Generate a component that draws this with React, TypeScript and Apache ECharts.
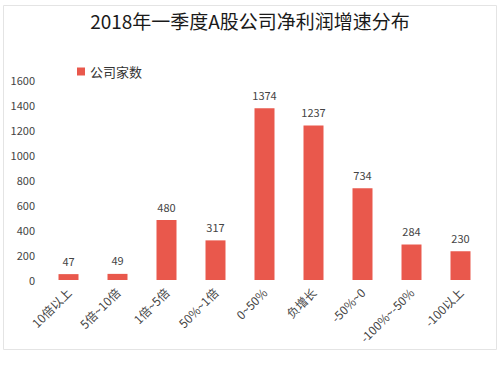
import React, { useEffect, useRef } from "react";
import * as echarts from "echarts";

const categories = ["10倍以上", "5倍~10倍", "1倍~5倍", "50%~1倍", "0~50%", "负增长", "-50%~0", "-100%~-50%", "-100以上"];
const companyCounts = [47, 49, 480, 317, 1374, 1237, 734, 284, 230];
const seriesName = "公司家数";
const titleText = "2018年一季度A股公司净利润增速分布";

export default function App() {
  const ref = useRef<HTMLDivElement>(null);
  useEffect(() => {
    const chart = echarts.init(ref.current!, undefined, { renderer: "svg" });
    const font = "'Noto Sans CJK SC', 'Noto Sans', sans-serif";
    chart.setOption({
      animation: false,
      backgroundColor: "#ffffff",
      textStyle: { fontFamily: font },
      title: {
        text: titleText,
        left: "center",
        top: 6,
        textStyle: { fontSize: 19, fontWeight: "normal", color: "#1a1a1a", fontFamily: font },
      },
      legend: {
        data: [seriesName],
        left: 72,
        top: 60,
        itemWidth: 8,
        itemHeight: 8,
        icon: "rect",
        itemGap: 4,
        textStyle: { fontSize: 13, color: "#333", fontFamily: font },
      },
      graphic: [
        {
          type: "rect",
          shape: { x: 3.5, y: 5.5, width: 493, height: 344 },
          style: { fill: "none", stroke: "#e4e4e4", lineWidth: 1 },
          silent: true,
        },
      ],
      grid: { left: 44, right: 15, top: 80, bottom: 90, containLabel: false },
      xAxis: {
        type: "category",
        data: categories,
        axisLine: { show: false },
        axisTick: { show: false },
        axisLabel: { rotate: 45, fontSize: 12, color: "#444", margin: 10, interval: 0, fontFamily: font },
      },
      yAxis: {
        type: "value",
        min: 0,
        max: 1600,
        interval: 200,
        splitLine: { show: false },
        axisLine: { show: false },
        axisTick: { show: false },
        axisLabel: {
          fontSize: 11,
          color: "#444",
          margin: 9,
          fontFamily: font,
          formatter: (v: number) => String(v),
        },
      },
      series: [
        {
          name: seriesName,
          type: "bar",
          data: companyCounts,
          barWidth: 20,
          itemStyle: { color: "#E9584C" },
          label: { show: true, position: "top", fontSize: 11, color: "#444", distance: 8, fontFamily: font },
        },
      ],
    });
    return () => chart.dispose();
  }, []);
  return <div ref={ref} style={{ width: 500, height: 370, position: "absolute", left: 0, top: 0 }} />;
}
